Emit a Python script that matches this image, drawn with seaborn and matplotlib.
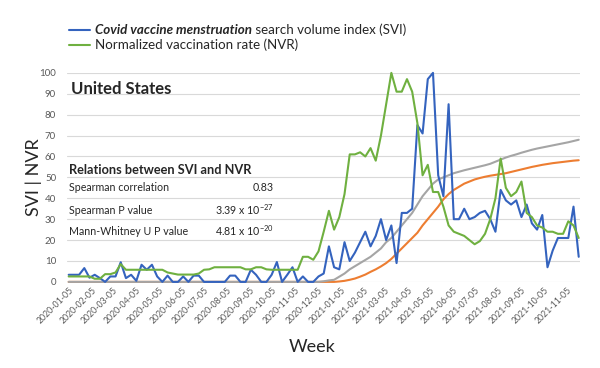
import pandas as pd
import matplotlib.pyplot as plt
import seaborn as sns
from matplotlib.lines import Line2D
from matplotlib.offsetbox import TextArea, DrawingArea, HPacker, VPacker, AnchoredOffsetbox

# weekly series, 2020-01-05 .. 2021-11-21
weeks = pd.date_range("2020-01-05", periods=99, freq="7D")

svi = [3.4, 3.4, 3.4, 6.6, 2, 3.4, 1.8, 0, 2.6, 2.6,
       9.4, 1.8, 3.4, 0.5, 8.2, 5.8, 8.2, 2.6, 0, 3,
       0, 0, 2.6, 0, 3, 3, 0, 0, 0, 0,
       0, 3, 3, 0, 0, 5.8, 3.4, 0, 0, 3.4,
       9.5, 0, 3.4, 7, 0, 2.6, 0, 0, 2.6, 4,
       17, 7, 6, 19, 10, 14, 19, 24, 17, 22,
       30, 20, 27, 9, 33, 33, 35, 75, 71, 97,
       100, 51, 41, 85, 30, 30, 35, 30, 31, 33,
       34, 30, 24, 44, 39, 37, 39, 31, 37, 28,
       25, 32, 7, 15, 21, 21, 21, 36, 12]

nvr = [2.6, 2.6, 2.6, 2.6, 2.6, 1.5, 1.5, 3.7, 3.7, 4.5,
       8.5, 5.8, 5.8, 5.8, 5.8, 5.8, 5.8, 5.8, 5.8, 4.5,
       4, 3.5, 3.5, 3.5, 3.5, 4, 5.8, 6, 7, 7,
       7, 7, 7, 7, 6, 6, 7, 7, 6, 5.8,
       5.8, 5.8, 5.8, 5.8, 5.8, 12, 12, 10.6, 14.6, 24,
       34, 25, 31, 42, 61, 61, 62, 60, 64, 58,
       70, 85, 100, 91, 91, 97, 91, 76, 51, 56,
       43, 43, 36, 27, 24, 23, 22, 20, 18, 19.5,
       23, 30, 40, 59, 45, 41, 43, 48, 33, 31,
       27, 26, 24, 24, 23, 23, 29, 27, 21]

# the two cumulative curves (grey and orange, not in the legend)
cum_grey = [0] * 48 + [
    0, 0.3, 0.7, 1, 2.5, 4, 6, 7.5, 9, 10.5,
    12, 14, 16, 19, 21, 24, 27, 30, 33, 37,
    41, 44, 47, 49, 50, 51, 52, 52.7, 53.4, 54,
    54.6, 55.2, 55.8, 56.5, 57.5, 58.5, 59.5, 60.3, 61, 61.8,
    62.5, 63.2, 63.8, 64.3, 64.8, 65.3, 65.8, 66.3, 66.8, 67.4, 68]

cum_orange = [0] * 51 + [
    0, 0.2, 0.5, 1, 1.6, 2.5, 3.5, 4.8, 6, 7.4,
    9, 11, 13.5, 16, 18.5, 21, 23.5, 27, 30, 33,
    36, 39.5, 42, 44, 45.5, 47, 48, 49, 49.7, 50.3,
    50.8, 51.2, 51.6, 52, 52.6, 53.2, 53.8, 54.4, 55, 55.5,
    56, 56.4, 56.8, 57.1, 57.4, 57.7, 58, 58.2]

stats_names = ["Spearman correlation", "Spearman P value", "Mann-Whitney U P value"]
stats_values = ["0.83", "3.39 x 10$^{\\mathregular{-27}}$", "4.81 x 10$^{\\mathregular{-20}}$"]

BLUE = "#3463BE"
GREEN = "#6FB040"
ORANGE = "#ED7D31"
GREY = "#A5A5A5"
TICK = "#595959"

df = pd.DataFrame({"week": weeks, "SVI": svi, "NVR": nvr,
                   "grey": cum_grey, "orange": cum_orange})

sns.set_theme(style="white")
plt.rcParams["font.family"] = ["Lato", "DejaVu Sans"]

fig = plt.figure(figsize=(6, 3.68), dpi=100)
ax = fig.add_axes([0.112, 0.234, 0.855, 0.568])

LW = 1.5
sns.lineplot(data=df, x="week", y="orange", color=ORANGE, lw=LW, ax=ax, legend=False)
sns.lineplot(data=df, x="week", y="grey", color=GREY, lw=LW, ax=ax, legend=False)
sns.lineplot(data=df, x="week", y="SVI", color=BLUE, lw=LW, ax=ax, legend=False)
sns.lineplot(data=df, x="week", y="NVR", color=GREEN, lw=LW, ax=ax, legend=False)
for ln in ax.lines:
    ln.set_clip_on(False)

ax.set_ylim(0, 100)
ax.set_yticks(range(0, 101, 10))
ax.set_xlim(weeks[0] - pd.Timedelta(days=2), weeks[-1] + pd.Timedelta(days=2))
ticks = pd.date_range("2020-01-01", "2021-11-01", freq="MS") + pd.Timedelta(days=4)
ax.set_xticks(ticks)
ax.set_xticklabels([t.strftime("%Y-%m-%d") for t in ticks], rotation=45,
                   ha="right", rotation_mode="anchor", fontsize=6.3, color=TICK)
ax.tick_params(axis="y", labelsize=7, labelcolor=TICK, length=0, pad=8)
ax.tick_params(axis="x", length=0, pad=3)
ax.grid(axis="y", color="#D9D9D9", lw=0.8)
ax.set_axisbelow(True)
for s in ax.spines.values():
    s.set_visible(False)

ax.set_xlabel("Week", fontsize=13)
ax.xaxis.set_label_coords(0.478, -0.275)
ax.set_ylabel("SVI | NVR", fontsize=13, labelpad=-2)

# annotations inside the plot
tr = ax.get_yaxis_transform()
ax.text(0.008, 92.5, "United States", transform=tr, fontsize=12, fontweight="bold",
        va="center", ha="left")
ax.text(0.004, 53.3, "Relations between SVI and NVR", transform=tr, fontsize=9.2,
        fontweight="bold", va="center", ha="left")
for yv, name, val in zip([45, 34.3, 24.3], stats_names, stats_values):
    ax.text(0.004, yv, name, transform=tr, fontsize=7.7, va="center", ha="left")
    ax.text(0.402, yv, val, transform=tr, fontsize=7.7, va="center", ha="right")

# legend with a bold-italic part in the first label
def legend_row(color, parts):
    da = DrawingArea(15, 8, 0, 0)
    da.add_artist(Line2D([0, 15], [4, 4], color=color, lw=LW))
    texts = [TextArea(t, textprops=dict(fontsize=9.6, **kw)) for t, kw in parts]
    return HPacker(children=[da, HPacker(children=texts, sep=0, pad=0, align="baseline")],
                   sep=4, pad=0, align="center")

rows = [
    legend_row(BLUE, [("Covid vaccine menstruation", dict(fontweight="bold", fontstyle="italic")),
                      (" search volume index (SVI)", {})]),
    legend_row(GREEN, [("Normalized vaccination rate (NVR)", {})]),
]
box = AnchoredOffsetbox(loc="upper left", child=VPacker(children=rows, sep=1.5, pad=0),
                        bbox_to_anchor=(0.115, 0.935), bbox_transform=fig.transFigure,
                        frameon=False, pad=0, borderpad=0)
fig.add_artist(box)

plt.savefig("out.png", dpi=100)
